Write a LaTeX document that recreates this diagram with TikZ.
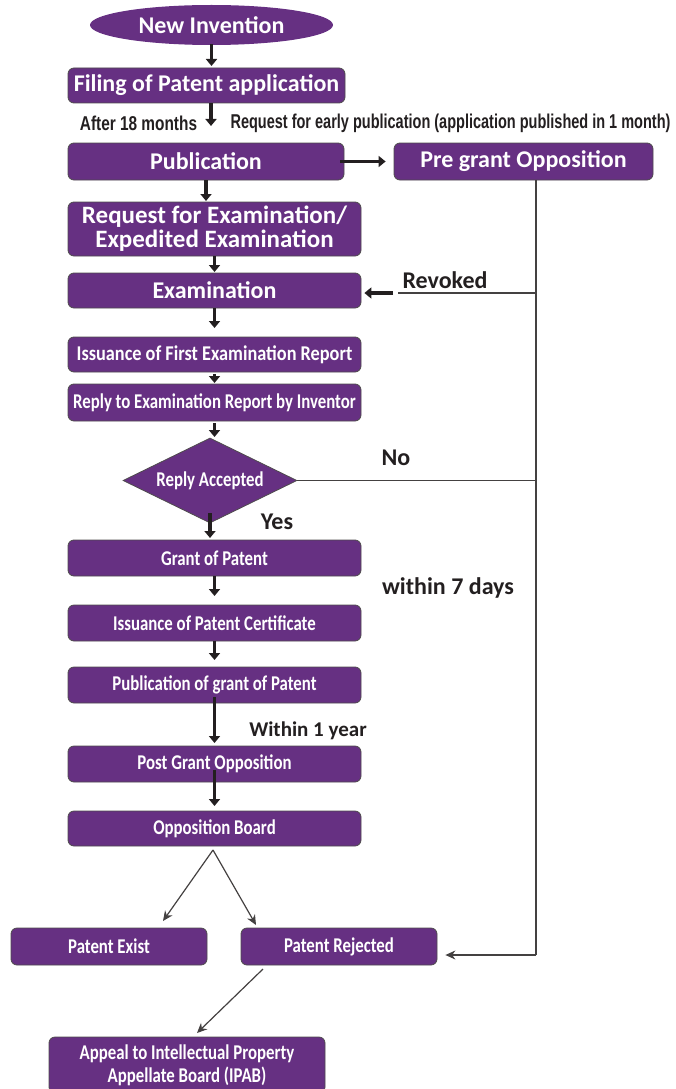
\documentclass[tikz,border=0pt]{standalone}
\usepackage{fontspec}
\setmainfont{Carlito}
\newfontfamily\condfont[FakeStretch=0.80]{Carlito}
\newfontfamily\condfontw[FakeStretch=0.87]{Carlito}
\newfontfamily\narrowfont[FakeStretch=0.77]{Liberation Sans}
\newfontfamily\narrowerfont[FakeStretch=0.725]{Liberation Sans}
\usetikzlibrary{shapes.geometric,arrows.meta,calc}
\definecolor{ppl}{RGB}{102,48,130}
\definecolor{ink}{RGB}{35,31,32}
\tikzset{
  box/.style={draw=ink!80, line width=0.8pt, fill=ppl, rounded corners=6pt, text=white,
    font=\bfseries\fontsize{24}{24}\selectfont, align=center, inner sep=0pt},
  cbox/.style={box, font=\condfont\bfseries\fontsize{21}{23}\selectfont},
  fat/.style={draw=ink, line width=3.6pt, -{Triangle[width=11pt,length=7pt]}},
  thinline/.style={draw=ink!85, line width=1.2pt},
  thinarrow/.style={thinline, -{Stealth[width=9pt,length=10pt]}},
  lbl/.style={text=ink, font=\bfseries\fontsize{24}{26}\selectfont, inner sep=0pt},
  nlbl/.style={text=ink, font=\narrowfont\bfseries\fontsize{20}{22}\selectfont, inner sep=0pt}
}
\begin{document}
\begin{tikzpicture}[x=1pt,y=-1pt]
\useasboundingbox (0,0) rectangle (676,1089);
% nodes
\node[box, ellipse, draw=none, minimum width=243pt, minimum height=40pt] (inv) at (211.5,25) {New Invention};
\node[box, minimum width=277pt, minimum height=35pt] (filing) at (206.5,85.5) {Filing of Patent application};
\node[box, minimum width=276pt, minimum height=37pt] (pub) at (206,161.5) {Publication};
\node[box, minimum width=259pt, minimum height=37pt] (pre) at (523.5,161.5) {Pre grant Opposition};
\node[box, minimum width=293pt, minimum height=54pt, font=\bfseries\fontsize{25}{24}\selectfont] (req) at (214.5,229) {Request for Examination/\\Expedited Examination};
\node[box, minimum width=293pt, minimum height=35pt] (exam) at (214.5,290.5) {Examination};
\node[cbox, minimum width=293pt, minimum height=35pt, font=\condfontw\bfseries\fontsize{21}{23}\selectfont] (fer) at (214.5,354.5) {Issuance of First Examination Report};
\node[cbox, minimum width=293pt, minimum height=37pt] (reply) at (214.5,402.5) {Reply to Examination Report by Inventor};
\node[cbox, diamond, rounded corners=0pt, shape aspect=2, minimum width=174pt, minimum height=85pt] (dec) at (210,480.5) {Reply Accepted};
\node[cbox, minimum width=293pt, minimum height=36pt] (grant) at (214.5,558) {Grant of Patent};
\node[cbox, minimum width=293pt, minimum height=36pt] (cert) at (214.5,623) {Issuance of Patent Certificate};
\node[cbox, minimum width=293pt, minimum height=36pt] (pubg) at (214.5,685) {Publication of grant of Patent};
\node[cbox, minimum width=293pt, minimum height=36pt] (post) at (214.5,764) {Post Grant Opposition};
\node[cbox, minimum width=293pt, minimum height=35pt] (board) at (214.5,828.5) {Opposition Board};
\node[cbox, minimum width=196pt, minimum height=37pt] (exist) at (109,946.5) {Patent Exist};
\node[cbox, minimum width=196pt, minimum height=37pt] (rej) at (339,946.5) {Patent Rejected};
\node[cbox, minimum width=276pt, minimum height=56pt, font=\condfont\bfseries\fontsize{21}{23}\selectfont] (appeal) at (187,1065) {Appeal to Intellectual Property\\Appellate Board (IPAB)};
% labels
\node[nlbl] (l18) at (138.5,123) {After 18 months};
\node[nlbl, font=\narrowerfont\bfseries\fontsize{20}{22}\selectfont] (learly) at (450.5,123) {Request for early publication (application published in 1 month)};
\node[lbl] (lrev) at (445,280) {Revoked};
\node[lbl] (lno) at (396,458) {No};
\node[lbl] (lyes) at (277,522) {Yes};
\node[lbl] (l7) at (448,588) {within 7 days};
\node[lbl, font=\bfseries\fontsize{21}{23}\selectfont] (l1y) at (308,731) {Within 1 year};
% coordinates
\coordinate (v1) at (536,180);
\coordinate (v2) at (536,955);
\coordinate (rv) at (398,293);
\coordinate (rv2) at (393,293);
\coordinate (split) at (213,850);
\coordinate (toexist) at (163,921);
\coordinate (torej) at (256,925);
\coordinate (rejout) at (263,969);
\coordinate (toappeal) at (197,1033);
% thick arrows
\draw[fat] ([yshift=1pt]inv.south) -- (inv.south |- 0,66);
\draw[fat] (filing.south -| 211,0) -- (211,126);
\draw[fat] (pub.east) ++(-4pt,0) -- ([xshift=-8pt]pre.west);
\draw[fat] (pub.south) -- (206,201);
\draw[fat] (req.south) -- (214.5,272);
\draw[fat] (exam.south) -- (214.5,328);
\draw[fat] ([yshift=-2pt]fer.south) -- (214.5,383);
\draw[fat] ([yshift=-2pt]reply.south) -- (214.5,437);
\draw[fat] (210,513) -- (210,538);
\draw[fat] (grant.south) -- (214.5,596);
\draw[fat] (cert.south) -- (214.5,660);
\draw[fat] (214.5,697) -- (214.5,743);
\draw[fat] (214.5,770) -- (214.5,806);
\draw[fat] (rv2) -- ([xshift=3pt]exam.east |- rv2);
% thin lines
\draw[thinline] (pre.south -| v1) -- (v2);
\draw[thinarrow] (v2) -- ([xshift=8pt]rej.east |- v2);
\draw[thinline] (v1 |- rv) -- (rv);
\draw[thinline] (dec.east) -- (dec.east -| v1);
\draw[thinarrow] (split) -- (toexist);
\draw[thinarrow] (split) -- (torej);
\draw[thinarrow] (rejout) -- (toappeal);
\end{tikzpicture}
\end{document}
